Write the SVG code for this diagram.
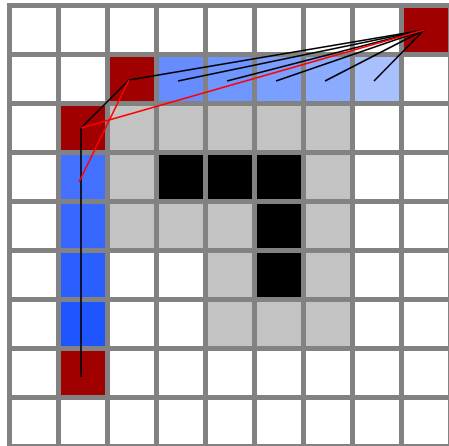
<svg xmlns="http://www.w3.org/2000/svg" width="449" height="446" viewBox="0 0 449 446">
<style>
.c{stroke:none}
.w{fill:#ffffff}.g{fill:#c3c3c3}.k{fill:#000000}.r{fill:#a00000}
.ln{fill:none;stroke-width:1.6;stroke-linecap:butt}
.bl{stroke:#000000}.rd{stroke:#ff0000}
</style>
<rect x="0" y="0" width="449" height="446" fill="#ffffff"/>
<rect x="7" y="3" width="442" height="443" fill="#828282"/>
<g id="cells">
<!-- row 0 -->
<rect id="c0_0" class="c w" x="12" y="8" width="44" height="44"/>
<rect id="c0_1" class="c w" x="61" y="8" width="44" height="44"/>
<rect id="c0_2" class="c w" x="110" y="8" width="44" height="44"/>
<rect id="c0_3" class="c w" x="159" y="8" width="44" height="44"/>
<rect id="c0_4" class="c w" x="208" y="8" width="44" height="44"/>
<rect id="c0_5" class="c w" x="257" y="8" width="44" height="44"/>
<rect id="c0_6" class="c w" x="306" y="8" width="44" height="44"/>
<rect id="c0_7" class="c w" x="355" y="8" width="44" height="44"/>
<rect id="c0_8" class="c r" x="404" y="8" width="44" height="44"/>
<!-- row 1 -->
<rect id="c1_0" class="c w" x="12" y="57" width="44" height="44"/>
<rect id="c1_1" class="c w" x="61" y="57" width="44" height="44"/>
<rect id="c1_2" class="c r" x="110" y="57" width="44" height="44"/>
<rect id="c1_3" class="c" fill="#668cff" x="159" y="57" width="44" height="44"/>
<rect id="c1_4" class="c" fill="#6f95ff" x="208" y="57" width="44" height="44"/>
<rect id="c1_5" class="c" fill="#7b9fff" x="257" y="57" width="44" height="44"/>
<rect id="c1_6" class="c" fill="#8aabff" x="306" y="57" width="44" height="44"/>
<rect id="c1_7" class="c" fill="#a9c0ff" x="355" y="57" width="44" height="44"/>
<rect id="c1_8" class="c w" x="404" y="57" width="44" height="44"/>
<!-- row 2 -->
<rect id="c2_0" class="c w" x="12" y="106" width="44" height="44"/>
<rect id="c2_1" class="c r" x="61" y="106" width="44" height="44"/>
<rect id="c2_2" class="c g" x="110" y="106" width="44" height="44"/>
<rect id="c2_3" class="c g" x="159" y="106" width="44" height="44"/>
<rect id="c2_4" class="c g" x="208" y="106" width="44" height="44"/>
<rect id="c2_5" class="c g" x="257" y="106" width="44" height="44"/>
<rect id="c2_6" class="c g" x="306" y="106" width="44" height="44"/>
<rect id="c2_7" class="c w" x="355" y="106" width="44" height="44"/>
<rect id="c2_8" class="c w" x="404" y="106" width="44" height="44"/>
<!-- row 3 -->
<rect id="c3_0" class="c w" x="12" y="155" width="44" height="44"/>
<rect id="c3_1" class="c" fill="#4470ff" x="61" y="155" width="44" height="44"/>
<rect id="c3_2" class="c g" x="110" y="155" width="44" height="44"/>
<rect id="c3_3" class="c k" x="159" y="155" width="44" height="44"/>
<rect id="c3_4" class="c k" x="208" y="155" width="44" height="44"/>
<rect id="c3_5" class="c k" x="257" y="155" width="44" height="44"/>
<rect id="c3_6" class="c g" x="306" y="155" width="44" height="44"/>
<rect id="c3_7" class="c w" x="355" y="155" width="44" height="44"/>
<rect id="c3_8" class="c w" x="404" y="155" width="44" height="44"/>
<!-- row 4 -->
<rect id="c4_0" class="c w" x="12" y="204" width="44" height="44"/>
<rect id="c4_1" class="c" fill="#3767ff" x="61" y="204" width="44" height="44"/>
<rect id="c4_2" class="c g" x="110" y="204" width="44" height="44"/>
<rect id="c4_3" class="c g" x="159" y="204" width="44" height="44"/>
<rect id="c4_4" class="c g" x="208" y="204" width="44" height="44"/>
<rect id="c4_5" class="c k" x="257" y="204" width="44" height="44"/>
<rect id="c4_6" class="c g" x="306" y="204" width="44" height="44"/>
<rect id="c4_7" class="c w" x="355" y="204" width="44" height="44"/>
<rect id="c4_8" class="c w" x="404" y="204" width="44" height="44"/>
<!-- row 5 -->
<rect id="c5_0" class="c w" x="12" y="253" width="44" height="44"/>
<rect id="c5_1" class="c" fill="#2b5eff" x="61" y="253" width="44" height="44"/>
<rect id="c5_2" class="c w" x="110" y="253" width="44" height="44"/>
<rect id="c5_3" class="c w" x="159" y="253" width="44" height="44"/>
<rect id="c5_4" class="c g" x="208" y="253" width="44" height="44"/>
<rect id="c5_5" class="c k" x="257" y="253" width="44" height="44"/>
<rect id="c5_6" class="c g" x="306" y="253" width="44" height="44"/>
<rect id="c5_7" class="c w" x="355" y="253" width="44" height="44"/>
<rect id="c5_8" class="c w" x="404" y="253" width="44" height="44"/>
<!-- row 6 -->
<rect id="c6_0" class="c w" x="12" y="302" width="44" height="44"/>
<rect id="c6_1" class="c" fill="#1f55ff" x="61" y="302" width="44" height="44"/>
<rect id="c6_2" class="c w" x="110" y="302" width="44" height="44"/>
<rect id="c6_3" class="c w" x="159" y="302" width="44" height="44"/>
<rect id="c6_4" class="c g" x="208" y="302" width="44" height="44"/>
<rect id="c6_5" class="c g" x="257" y="302" width="44" height="44"/>
<rect id="c6_6" class="c g" x="306" y="302" width="44" height="44"/>
<rect id="c6_7" class="c w" x="355" y="302" width="44" height="44"/>
<rect id="c6_8" class="c w" x="404" y="302" width="44" height="44"/>
<!-- row 7 -->
<rect id="c7_0" class="c w" x="12" y="351" width="44" height="44"/>
<rect id="c7_1" class="c r" x="61" y="351" width="44" height="44"/>
<rect id="c7_2" class="c w" x="110" y="351" width="44" height="44"/>
<rect id="c7_3" class="c w" x="159" y="351" width="44" height="44"/>
<rect id="c7_4" class="c w" x="208" y="351" width="44" height="44"/>
<rect id="c7_5" class="c w" x="257" y="351" width="44" height="44"/>
<rect id="c7_6" class="c w" x="306" y="351" width="44" height="44"/>
<rect id="c7_7" class="c w" x="355" y="351" width="44" height="44"/>
<rect id="c7_8" class="c w" x="404" y="351" width="44" height="44"/>
<!-- row 8 -->
<rect id="c8_0" class="c w" x="12" y="400" width="44" height="44"/>
<rect id="c8_1" class="c w" x="61" y="400" width="44" height="44"/>
<rect id="c8_2" class="c w" x="110" y="400" width="44" height="44"/>
<rect id="c8_3" class="c w" x="159" y="400" width="44" height="44"/>
<rect id="c8_4" class="c w" x="208" y="400" width="44" height="44"/>
<rect id="c8_5" class="c w" x="257" y="400" width="44" height="44"/>
<rect id="c8_6" class="c w" x="306" y="400" width="44" height="44"/>
<rect id="c8_7" class="c w" x="355" y="400" width="44" height="44"/>
<rect id="c8_8" class="c w" x="404" y="400" width="44" height="44"/>
</g>
<g id="connectors">
<line class="ln bl" x1="424" y1="30" x2="129" y2="80"/>
<line class="ln bl" x1="424" y1="30" x2="178" y2="81"/>
<line class="ln bl" x1="424" y1="30" x2="227" y2="81"/>
<line class="ln bl" x1="424" y1="30" x2="276" y2="81"/>
<line class="ln bl" x1="424" y1="30" x2="325" y2="81"/>
<line class="ln bl" x1="424" y1="30" x2="374" y2="81"/>
<line class="ln bl" x1="129" y1="80" x2="81" y2="128"/>
<line class="ln bl" x1="81" y1="128" x2="81" y2="377"/>
<line class="ln rd" x1="424" y1="30" x2="81" y2="128"/>
<line class="ln rd" x1="129" y1="80" x2="79" y2="182"/>
</g>
</svg>
